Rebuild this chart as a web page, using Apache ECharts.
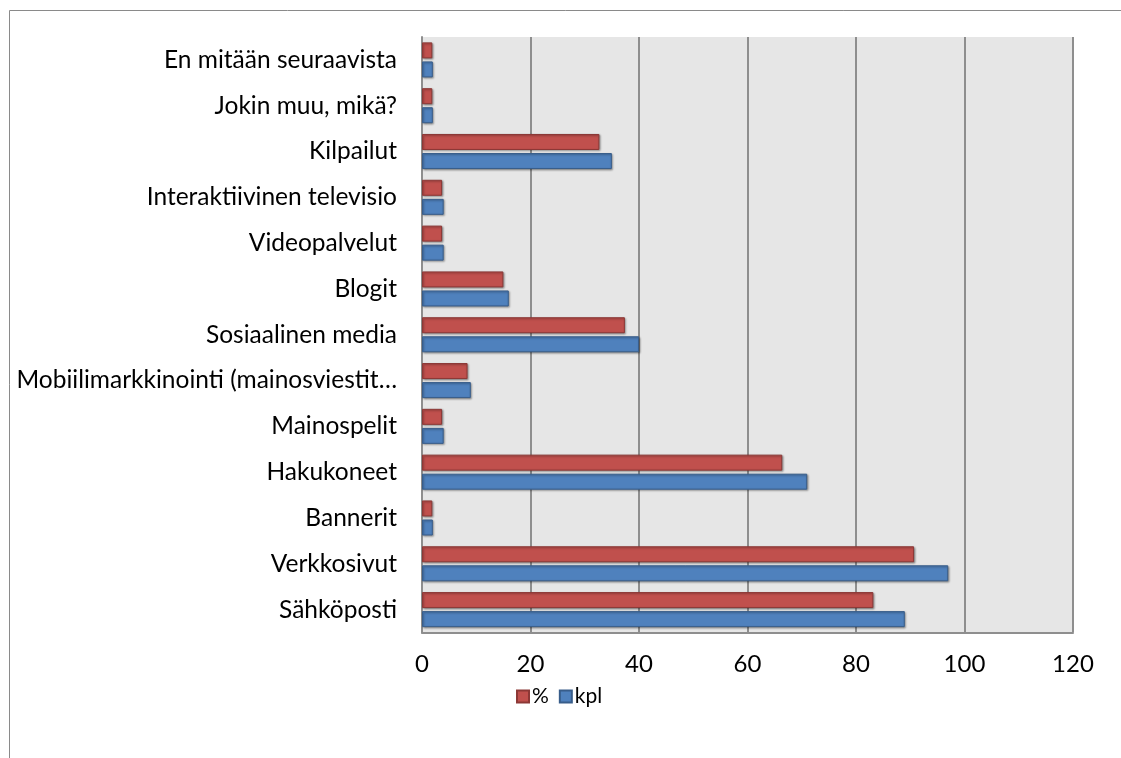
<!DOCTYPE html>
<html>
<head>
<meta charset="utf-8">
<script src="https://cdn.jsdelivr.net/npm/echarts@6/dist/echarts.min.js"></script>
<style>
  html, body { margin: 0; padding: 0; background: #ffffff; }
  #chart { width: 1121px; height: 758px; }
</style>
</head>
<body>
<div id="chart"></div>
<script>
// Channels, listed from the bottom of the axis upward
const categories = [
  'Sähköposti',
  'Verkkosivut',
  'Bannerit',
  'Hakukoneet',
  'Mainospelit',
  'Mobiilimarkkinointi (mainosviestit…',
  'Sosiaalinen media',
  'Blogit',
  'Videopalvelut',
  'Interaktiivinen televisio',
  'Kilpailut',
  'Jokin muu, mikä?',
  'En mitään seuraavista'
];

// Number of respondents
const kplValues = [89, 97, 2, 71, 4, 9, 40, 16, 4, 4, 35, 2, 2];

// Share of respondents, %
const pctValues = [83.2, 90.7, 1.9, 66.4, 3.7, 8.4, 37.4, 15.0, 3.7, 3.7, 32.7, 1.9, 1.9];

const xTicks = { min: 0, max: 120, interval: 20 };
const legendNames = ['%', 'kpl'];

const FONT = 'Lato, "Open Sans", sans-serif';

const chart = echarts.init(document.getElementById('chart'), null, { renderer: 'canvas' });

const barShadow = {
  shadowBlur: 2,
  shadowColor: 'rgba(0,0,0,0.35)',
  shadowOffsetX: 1,
  shadowOffsetY: 1
};

chart.setOption({
  animation: false,
  backgroundColor: '#ffffff',
  textStyle: { fontFamily: FONT },
  graphic: [
    {
      type: 'rect',
      left: 7, top: 8,
      shape: { x: 0.5, y: 0.5, width: 1300, height: 900 },
      style: { fill: 'none', stroke: '#8a8a8a', lineWidth: 1 },
      silent: true, z: -10
    }
  ],
  legend: {
    data: legendNames,
    left: 516,
    top: 686,
    padding: 0,
    itemWidth: 12,
    itemHeight: 12,
    itemGap: 10,
    icon: 'rect',
    textStyle: { fontFamily: FONT, fontSize: 21, color: '#000', padding: [0, 0, 0, -2] }
  },
  grid: {
    left: 422,
    right: 48,
    top: 37,
    bottom: 125.5,
    show: true,
    backgroundColor: '#e6e6e6',
    borderWidth: 0,
    containLabel: false
  },
  xAxis: {
    type: 'value',
    min: xTicks.min,
    max: xTicks.max,
    interval: xTicks.interval,
    axisLine: { show: true, lineStyle: { color: '#8e8e8e', width: 2 } },
    axisTick: { show: false },
    splitLine: { show: true, lineStyle: { color: '#8e8e8e', width: 2 } },
    axisLabel: { fontFamily: FONT, fontSize: 24, color: '#000', margin: 20 }
  },
  yAxis: {
    type: 'category',
    data: categories,
    axisLine: { show: true, lineStyle: { color: '#8e8e8e', width: 2 } },
    axisTick: { show: false },
    splitLine: { show: false },
    axisLabel: { fontFamily: FONT, fontSize: 24.5, color: '#000', margin: 25, interval: 0 }
  },
  series: [
    {
      name: '%',
      type: 'bar',
      data: pctValues,
      barWidth: 16,
      barGap: '19%',
      itemStyle: Object.assign({ color: '#c0504d', borderColor: '#8c3836', borderWidth: 1 }, barShadow)
    },
    {
      name: 'kpl',
      type: 'bar',
      data: kplValues,
      barWidth: 16,
      barGap: '19%',
      itemStyle: Object.assign({ color: '#4f81bd', borderColor: '#385d8a', borderWidth: 1 }, barShadow)
    }
  ]
});
</script>
</body>
</html>
